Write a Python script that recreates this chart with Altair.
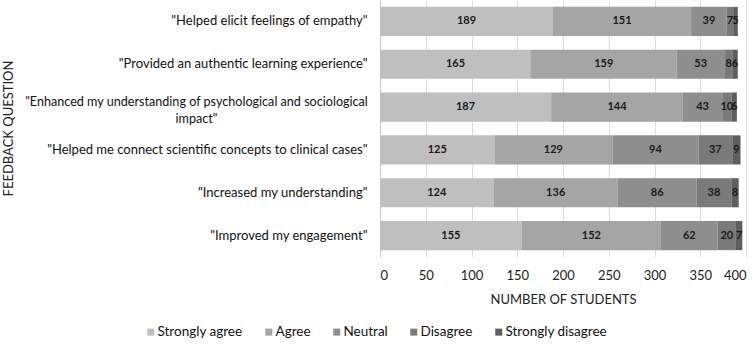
import altair as alt
import pandas as pd

# Survey feedback: number of students per response level for each question
questions = [
    '"Helped elicit feelings of empathy"',
    '"Provided an authentic learning experience"',
    '"Enhanced my understanding of psychological and sociological impact"',
    '"Helped me connect scientific concepts to clinical cases"',
    '"Increased my understanding"',
    '"Improved my engagement"',
]
levels = ["Strongly agree", "Agree", "Neutral", "Disagree", "Strongly disagree"]
strongly_agree = [189, 165, 187, 125, 124, 155]
agree = [151, 159, 144, 129, 136, 152]
neutral = [39, 53, 43, 94, 86, 62]
disagree = [7, 8, 10, 37, 38, 20]
strongly_disagree = [5, 6, 6, 9, 8, 7]
shades = ["#bfbfbf", "#a5a5a5", "#8e8e8e", "#7a7a7a", "#5e5e5e"]
x_ticks = [0, 50, 100, 150, 200, 250, 300, 350, 400]

series = [strongly_agree, agree, neutral, disagree, strongly_disagree]
rows = []
for li, (lvl, vals) in enumerate(zip(levels, series)):
    for q, v in zip(questions, vals):
        rows.append({"question": q, "level": lvl, "idx": li, "count": v})
df = pd.DataFrame(rows)

FONT = "Lato"
LONG = "indexof(datum.label, 'Enhanced') >= 0"

base = alt.Chart(df).transform_stack(
    stack="count",
    groupby=["question"],
    sort=[alt.SortField("idx", order="ascending")],
    as_=["x0", "x1"],
).transform_calculate(mid="(datum.x0 + datum.x1) / 2")

y_enc = alt.Y(
    "question:N",
    sort=questions,
    scale=alt.Scale(paddingInner=0.32, paddingOuter=0.16),
    axis=alt.Axis(
        title="FEEDBACK QUESTION",
        titleFont=FONT,
        titleFontSize=13,
        titleFontWeight="normal",
        titleColor="#222",
        titleAngle=-90,
        titleX=-372,
        titleY=128,
        titleAlign="center",
        titleBaseline="middle",
        labelFont=FONT,
        labelFontSize={"condition": {"test": LONG, "value": 12.6}, "value": 13},
        labelColor="#111",
        labelLimit=400,
        labelExpr="indexof(datum.label, 'Enhanced') >= 0 ? ['\"Enhanced my understanding of psychological and sociological', 'impact\"'] : datum.label",
        labelAlign={"condition": {"test": LONG, "value": "center"}, "value": "right"},
        labelPadding={"condition": {"test": LONG, "value": 184}, "value": 13},
        labelOffset={"condition": {"test": LONG, "value": -5}, "value": 0},
        labelLineHeight=17,
        ticks=False,
        domain=True,
        domainColor="#c8c8c8",
        grid=False,
    ),
)

bars = base.mark_bar().encode(
    x=alt.X(
        "x0:Q",
        scale=alt.Scale(domain=[0, 400], nice=False),
        axis=alt.Axis(
            title="NUMBER OF STUDENTS",
            titleFont=FONT,
            titleFontSize=13,
            titleFontWeight="normal",
            titleColor="#222",
            titlePadding=11,
            values=x_ticks,
            labelFont=FONT,
            labelFontSize=13,
            labelColor="#222",
            labelPadding=12,
            ticks=False,
            domain=False,
            grid=True,
            gridColor="#dcdcdc",
        ),
    ),
    x2="x1:Q",
    y=y_enc,
    color=alt.Color(
        "level:N",
        scale=alt.Scale(domain=levels, range=shades),
        legend=alt.Legend(
            title=None,
            orient="none",
            direction="horizontal",
            legendX=-236,
            legendY=325,
            symbolType="square",
            symbolSize=49,
            symbolStrokeWidth=0,
            labelFont=FONT,
            labelFontSize=13.5,
            labelColor="#111",
            labelOffset=0,
            columnPadding=19,
        ),
    ),
)

labels = base.mark_text(font=FONT, fontSize=11, fontWeight="bold", color="#1a1a1a").encode(
    x="mid:Q",
    y=alt.Y("question:N", sort=questions),
    text="count:Q",
)

chart = (
    (bars + labels)
    .properties(
        width=366,
        height=257,
        autosize=alt.AutoSizeParams(type="none"),
        padding={"left": 380, "top": 0, "right": 9, "bottom": 94},
    )
    .configure_view(stroke=None)
)

chart.save("out.html", embed_options={"renderer": "svg", "actions": False})
